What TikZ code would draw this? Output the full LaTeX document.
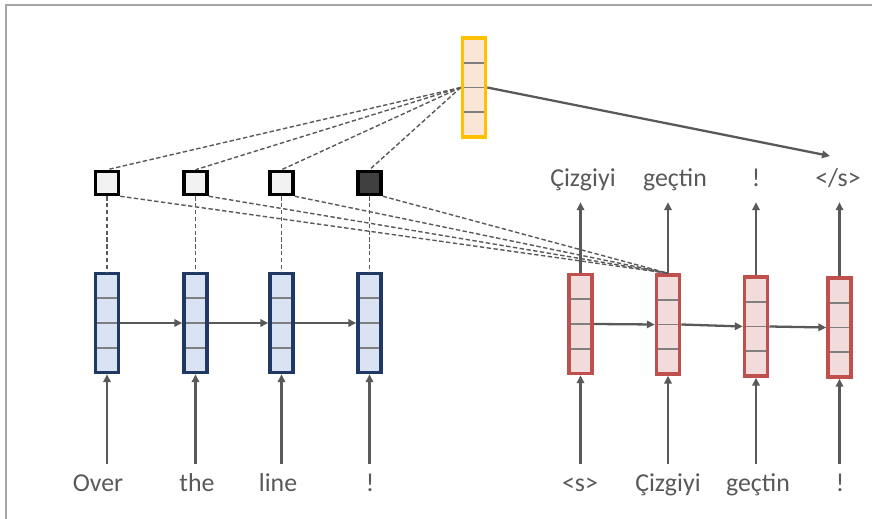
\documentclass[tikz,border=0pt]{standalone}
\usepackage{fontspec}
\setmainfont{Carlito}
\usepackage{tikz}
\usetikzlibrary{arrows.meta,calc,positioning}

\definecolor{txtgray}{HTML}{595959}
\definecolor{cellgray}{HTML}{7F7F7F}
\definecolor{framegray}{HTML}{A6A6A6}
\definecolor{encblue}{HTML}{1F3864}
\definecolor{encfill}{HTML}{DAE3F3}
\definecolor{decred}{HTML}{C0504D}
\definecolor{decfill}{HTML}{F2DCDB}
\definecolor{attyellow}{HTML}{FFC000}
\definecolor{attfill}{HTML}{FBE5D6}
\definecolor{wlight}{HTML}{F2F2F2}
\definecolor{wdark}{HTML}{404040}

\tikzset{
  cellline/.style={draw=cellgray,line width=1pt},
  vec/.style={rectangle,draw,line width=2pt,inner sep=0pt,
    minimum width=0.46cm,minimum height=1.98cm,
    path picture={
      \foreach \f in {0.25,0.5,0.75}
        \draw[cellline] ($(path picture bounding box.south west)!\f!(path picture bounding box.north west)$)
          -- ($(path picture bounding box.south east)!\f!(path picture bounding box.north east)$);
    }},
  word/.style={text=txtgray,font=\fontsize{14.7}{17}\selectfont,anchor=base,
    text height=10pt,text depth=3pt,inner xsep=0pt,inner ysep=5.5pt},
  tip/.style={-{Triangle[length=4.5pt,width=4.2pt]}}
}

\begin{document}
\begin{tikzpicture}[x=0.02cm,y=-0.02cm]
        \useasboundingbox (0,0) rectangle (872,519);
        \draw[framegray,line width=0.9pt] (6,519) -- (6,5) -- (872,5);
        % encoder states
        \begin{scope}[every node/.style={vec,draw=encblue,fill=encfill}]
          \node (e1) at (107,323) {};
          \node (e2) at (195.5,323) {};
          \node (e3) at (281.5,323) {};
          \node (e4) at (369.5,323) {};
        \end{scope}
        % decoder states
        \begin{scope}[every node/.style={vec,draw=decred,fill=decfill}]
          \node (r1) at (580.5,324) {};
          \node (r2) at (668,324.5) {};
          \node (r3) at (756,326.5) {};
          \node (r4) at (839.5,327.5) {};
        \end{scope}
        % context vector
        \node[vec,draw=attyellow,fill=attfill] (att) at (474,87.5) {};
        % attention weights
        \begin{scope}[every node/.style={draw=black,line width=2pt,minimum size=0.46cm,inner sep=0pt,fill=wlight}]
          \node (a1) at (107,183) {};
          \node (a2) at (195.5,183) {};
          \node (a3) at (281.5,183) {};
          \node[fill=wdark] (a4) at (369.5,183) {};
        \end{scope}
        % words
        \begin{scope}[every node/.style={word}]
          \node (w1) at (98,492) {Over};
          \node (w2) at (197,492) {the};
          \node (w3) at (278,492) {line};
          \node (w4) at (370,492) {!};
          \node (d1) at (580,492) {<s>};
          \node (d2) at (668,492) {Çizgiyi};
          \node (d3) at (758,492) {geçtin};
          \node (d4) at (840,492) {!};
          \node (o1) at (583,187) {Çizgiyi};
          \node (o2) at (675,187) {geçtin};
          \node (o3) at (756,187) {!};
          \node (o4) at (838,187) {</s>};
        \end{scope}
        \coordinate (eos) at (830,156);
        \begin{scope}[every edge/.style={draw=txtgray,line width=1.3pt,tip}]
          \path (e1) edge (e2);
          \path (e2) edge (e3);
          \path (e3) edge (e4);
          \path (r1.east) edge (r2.west);
          \path (r2.east) edge (r3.west);
          \path (r3.east) edge (r4.west);
          \path (e1.south |- w1.north) edge (e1.south);
          \path (e2.south |- w2.north) edge (e2.south);
          \path (e3.south |- w3.north) edge (e3.south);
          \path (e4.south |- w4.north) edge (e4.south);
          \path (r1.south |- d1.north) edge (r1.south);
          \path (r2.south |- d2.north) edge (r2.south);
          \path (r3.south |- d3.north) edge (r3.south);
          \path (r4.south |- d4.north) edge (r4.south);
          \path (r1.north) edge (r1.north |- o1.south);
          \path (r2.north) edge (r2.north |- o2.south);
          \path (r3.north) edge (r3.north |- o3.south);
          \path (r4.north) edge (r4.north |- o4.south);
          \path (att.east) edge (eos);
        \end{scope}
        \begin{scope}[every edge/.style={draw=txtgray,line width=0.8pt,dash pattern=on 2.5pt off 1.4pt}]
          \path (att.west) edge (a1.north);
          \path (att.west) edge (a2.north);
          \path (att.west) edge (a3.north);
          \path (att.west) edge (a4.north);
          \path (a1) edge (e1);
          \path (a2) edge (e2);
          \path (a3) edge (e3);
          \path (a4) edge (e4);
          \path (a1.south east) edge (r2.north);
          \path (a2.south east) edge (r2.north);
          \path (a3.south east) edge (r2.north);
          \path (a4.south east) edge (r2.north);
        \end{scope}
      \end{tikzpicture}
\end{document}
